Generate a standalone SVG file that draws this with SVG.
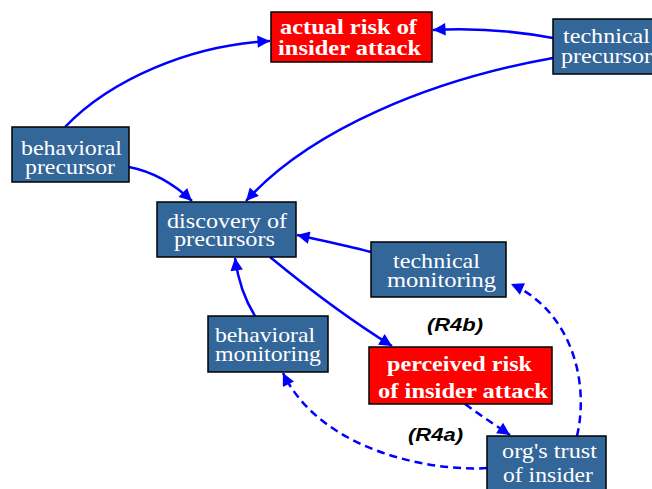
<svg xmlns="http://www.w3.org/2000/svg" width="652" height="489" viewBox="0 0 652 489">
<style>
.b{fill:#336699;stroke:#000;stroke-width:1.5}
.r{fill:#ff0000;stroke:#000;stroke-width:1.5}
.t{font-family:"Liberation Serif",serif;font-size:22px;fill:#fff}
.tb{font-family:"Liberation Serif",serif;font-size:21px;font-weight:bold;fill:#fff}
.e{fill:none;stroke:#0000ff;stroke-width:2.5;marker-end:url(#a)}
.d{stroke-dasharray:8,5}
.l{font-family:"Liberation Sans",sans-serif;font-size:18px;font-weight:bold;font-style:italic;fill:#000}
</style>
<defs>
<marker id="a" viewBox="0 0 10 10" refX="10" refY="5" markerWidth="6" markerHeight="5" markerUnits="strokeWidth" orient="auto">
<path d="M0,0 L10,5 L0,10 z" fill="#0000ff"/>
</marker>
</defs>
<rect width="652" height="489" fill="#fff"/>
<g id="edges">
<path class="e" d="M65,127 C110,80 190,45 270,41"/>
<path class="e" d="M553,38 C510,30 470,28 433,30"/>
<path class="e" d="M553,58 C430,80 310,130 246,201"/>
<path class="e" d="M129,167 C155,172 175,185 192,201"/>
<path class="e" d="M371,252 C345,245 320,240 297,235"/>
<path class="e" d="M255,316 C245,300 238,280 235,258"/>
<path class="e" d="M270,257 C310,290 350,320 392,346"/>
<path class="e d" d="M465,404 C480,415 495,425 510,435"/>
<path class="e d" d="M577,436 C590,380 570,310 511,284"/>
<path class="e d" d="M487,468 C430,472 320,450 283,373"/>
</g>
<g id="actual_risk"><rect class="r" x="271" y="12" width="161" height="50"/><text class="tb" x="280" y="34" textLength="137" lengthAdjust="spacingAndGlyphs">actual risk of</text><text class="tb" x="278" y="55" textLength="143" lengthAdjust="spacingAndGlyphs">insider attack</text></g>
<g id="technical_precursor"><rect class="b" x="553" y="19" width="110" height="55"/><text class="t" x="563" y="43" textLength="87" lengthAdjust="spacingAndGlyphs">technical</text><text class="t" x="561" y="63" textLength="91" lengthAdjust="spacingAndGlyphs">precursor</text></g>
<g id="behavioral_precursor"><rect class="b" x="12" y="127" width="117" height="55"/><text class="t" x="21" y="155" textLength="101" lengthAdjust="spacingAndGlyphs">behavioral</text><text class="t" x="25" y="174" textLength="90" lengthAdjust="spacingAndGlyphs">precursor</text></g>
<g id="discovery"><rect class="b" x="157" y="202" width="139" height="55"/><text class="t" x="167" y="228" textLength="120" lengthAdjust="spacingAndGlyphs">discovery of</text><text class="t" x="174" y="246" textLength="101" lengthAdjust="spacingAndGlyphs">precursors</text></g>
<g id="technical_monitoring"><rect class="b" x="371" y="242" width="135" height="55"/><text class="t" x="393" y="268" textLength="87" lengthAdjust="spacingAndGlyphs">technical</text><text class="t" x="387" y="287" textLength="109" lengthAdjust="spacingAndGlyphs">monitoring</text></g>
<g id="behavioral_monitoring"><rect class="b" x="208" y="316" width="120" height="56"/><text class="t" x="215" y="342" textLength="100" lengthAdjust="spacingAndGlyphs">behavioral</text><text class="t" x="215" y="361" textLength="106" lengthAdjust="spacingAndGlyphs">monitoring</text></g>
<g id="perceived_risk"><rect class="r" x="369" y="347" width="183" height="57"/><text class="tb" x="387" y="371" textLength="145" lengthAdjust="spacingAndGlyphs">perceived risk</text><text class="tb" x="378" y="398" textLength="170" lengthAdjust="spacingAndGlyphs">of insider attack</text></g>
<g id="orgs_trust"><rect class="b" x="487" y="436" width="119" height="60"/><text class="t" x="502" y="458" textLength="95" lengthAdjust="spacingAndGlyphs">org's trust</text><text class="t" x="503" y="482" textLength="90" lengthAdjust="spacingAndGlyphs">of insider</text></g>
<text class="l" x="427" y="331" textLength="56" lengthAdjust="spacingAndGlyphs">(R4b)</text>
<text class="l" x="408" y="441" textLength="55" lengthAdjust="spacingAndGlyphs">(R4a)</text>
</svg>
